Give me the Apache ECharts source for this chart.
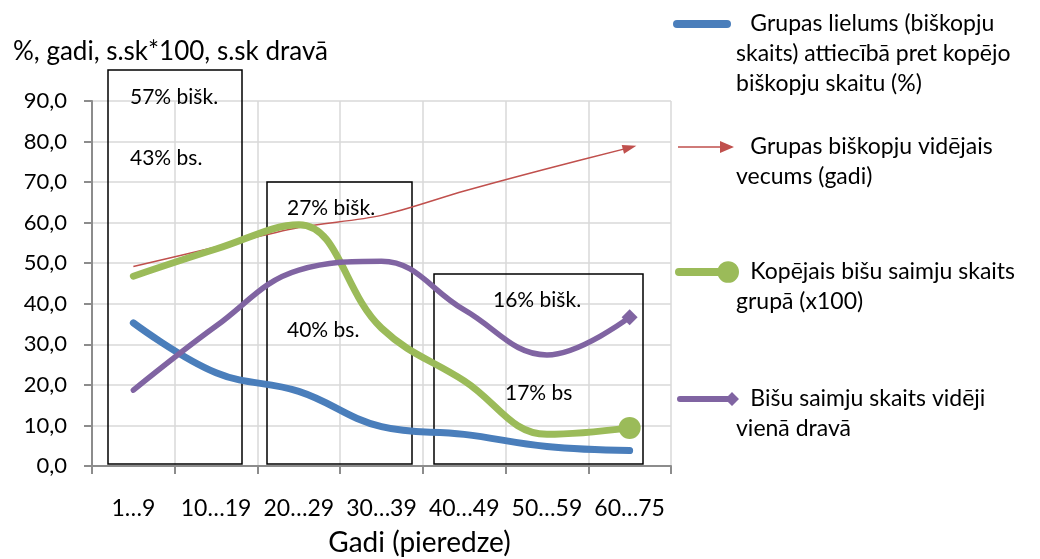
<!DOCTYPE html>
<html>
<head>
<meta charset="utf-8">
<script src="https://cdn.jsdelivr.net/npm/echarts@6/dist/echarts.min.js"></script>
<style>
  html, body { margin: 0; padding: 0; background: #fff; }
  #main { width: 1040px; height: 559px; }
</style>
</head>
<body>
<div id="main"></div>
<script>
// categorias (grupas pēc pieredzes gadiem)
var categories = ['1…9', '10…19', '20…29', '30…39', '40…49', '50…59', '60…75'];

// vērtības nolasītas no attēla
var grupasLielums = [35.3, 23.0, 18.4, 9.7, 7.8, 4.8, 3.8];
var videjaisVecums = [49.2, 54.0, 58.8, 61.8, 67.8, 73.3, 78.5];
var kopejaisSaimju = [46.8, 53.5, 59.5, 34.0, 21.0, 7.8, 9.4];
var saimjuDrava = [18.7, 34.5, 48.3, 50.5, 38.5, 27.4, 36.7];

var seriesNames = [
  'Grupas lielums (biškopju skaits) attiecībā pret kopējo biškopju skaitu (%)',
  'Grupas biškopju vidējais vecums (gadi)',
  'Kopējais bišu saimju skaits grupā (x100)',
  'Bišu saimju skaits vidēji vienā dravā'
];
var legendLines = [
  ['Grupas lielums (biškopju', 'skaits) attiecībā pret kopējo', 'biškopju skaitu (%)'],
  ['Grupas biškopju vidējais', 'vecums (gadi)'],
  ['Kopējais bišu saimju skaits', 'grupā (x100)'],
  ['Bišu saimju skaits vidēji', 'vienā dravā']
];

// uzraksti kastēs
var boxTexts = ['57% bišk.', '43% bs.', '27% bišk.', '40% bs.', '16% bišk.', '17% bs'];

var yMin = 0, yMax = 90, yStep = 10;
var titleText = '%, gadi, s.sk*100, s.sk dravā';
var xName = 'Gadi (pieredze)';

var FONT = 'Lato';
var colors = ['#4a7ebb', '#c0504d', '#9bbb59', '#8064a2'];

// leģendas ikonas (ceļi)
var icons = [
  { path: 'path://M4,0 H54 A4,4 0 0 1 54,8 H4 A4,4 0 0 1 4,0 Z', w: 58, h: 8 },
  { path: 'path://M0,5.25 H44 V6.75 H0 Z M42,0 L56,6 L42,12 Z', w: 56, h: 12 },
  { path: 'path://M3,7 H44 V15 H3 A4,4 0 0 1 3,7 Z M42,11 A11,11 0 1 1 64,11 A11,11 0 1 1 42,11 Z', w: 64, h: 22 },
  { path: 'path://M3,4 H52 V10 H3 A3,3 0 0 1 3,4 Z M55,0 L62,7 L55,14 L48,7 Z', w: 62, h: 14 }
];
var legendIconY = [24, 147, 272, 399];
var legendLeft = [673, 678, 675, 677];
var LH = 30;

function buildLegend(i) {
  var lines = legendLines[i];
  var n = lines.length;
  // tukšas rindas priekšā, lai ikona būtu pie pirmās rindas
  var txt = '';
  for (var k = 0; k < n - 1; k++) txt += '\n';
  txt += '\u2002\u2009' + lines.join('\n');
  var total = 2 * n - 1;
  return {
    show: true,
    data: [{ name: seriesNames[i], icon: icons[i].path }],
    left: legendLeft[i],
    top: legendIconY[i] - total * LH / 2,
    padding: 0,
    itemWidth: icons[i].w,
    itemHeight: icons[i].h,
    itemGap: 0,
    selectedMode: false,
    formatter: function () { return txt; },
    textStyle: { fontFamily: FONT, fontSize: 23, lineHeight: LH, color: '#000', padding: [0, 0, 0, 736 - legendLeft[i] - icons[i].w - 5] }
  };
}

function lastMark(arr, symbol, size, rotate) {
  var d = arr.slice(0, arr.length - 1);
  d.push({ value: arr[arr.length - 1], symbol: symbol, symbolSize: size, symbolRotate: rotate || 0 });
  return d;
}

var myChart = echarts.init(document.getElementById('main'));

var boxes = [
  { x: 108, y: 70, w: 134, h: 394 },
  { x: 267, y: 182, w: 145, h: 282 },
  { x: 434, y: 274, w: 209, h: 190 }
];
var textPos = [[130, 97], [130, 158], [287, 208], [287, 330], [493, 300], [505, 393]];

var graphics = [];
boxes.forEach(function (b) {
  graphics.push({
    type: 'rect', z: 1,
    shape: { x: b.x, y: b.y, width: b.w, height: b.h },
    style: { fill: 'none', stroke: '#000', lineWidth: 1.5 }
  });
});
boxTexts.forEach(function (t, i) {
  graphics.push({
    type: 'text', z: 1, x: textPos[i][0], y: textPos[i][1],
    style: { text: t, fill: '#000', font: '21px ' + FONT, verticalAlign: 'middle' }
  });
});

myChart.setOption({
  animation: false,
  title: {
    text: titleText,
    left: 8, top: 34,
    textStyle: { fontFamily: FONT, fontSize: 26, fontWeight: 'normal', color: '#000' }
  },
  legend: [buildLegend(0), buildLegend(1), buildLegend(2), buildLegend(3)],
  grid: { left: 92, right: 369, top: 101, bottom: 93, containLabel: false, outerBoundsMode: 'none' },
  xAxis: {
    type: 'category',
    data: categories,
    boundaryGap: true,
    name: xName,
    nameLocation: 'middle',
    nameGap: 63,
    nameTextStyle: { fontFamily: FONT, fontSize: 28, color: '#000', padding: [0, 0, 0, 76] },
    axisLine: { lineStyle: { color: '#8c8c8c', width: 2 } },
    axisTick: { show: true, length: 8, lineStyle: { color: '#8c8c8c', width: 2 } },
    axisLabel: { margin: 31, fontFamily: FONT, fontSize: 23, color: '#000', interval: 0 },
    splitLine: { show: true, lineStyle: { color: '#d9d9d9', width: 1.5 } }
  },
  yAxis: {
    type: 'value',
    min: yMin, max: yMax, interval: yStep,
    axisLine: { show: true, lineStyle: { color: '#8c8c8c', width: 2 } },
    axisTick: { show: true, length: 8, lineStyle: { color: '#8c8c8c', width: 2 } },
    axisLabel: {
      margin: 25, fontFamily: FONT, fontSize: 22, color: '#000',
      formatter: function (v) { return v.toFixed(1).replace('.', ','); }
    },
    splitLine: { show: true, lineStyle: { color: '#d9d9d9', width: 1.5 } }
  },
  series: [
    {
      name: seriesNames[0], type: 'line', smooth: 0.4, symbol: 'none',
      data: grupasLielums,
      itemStyle: { color: colors[0] },
      lineStyle: { color: colors[0], width: 7, cap: 'round' }
    },
    {
      name: seriesNames[1], type: 'line', smooth: 0.3, symbol: 'none',
      data: lastMark(videjaisVecums, 'triangle', [9, 14], -75),
      itemStyle: { color: colors[1] },
      lineStyle: { color: colors[1], width: 1.5 }
    },
    {
      name: seriesNames[2], type: 'line', smooth: 0.4, symbol: 'none',
      data: lastMark(kopejaisSaimju, 'circle', 22),
      itemStyle: { color: colors[2] },
      lineStyle: { color: colors[2], width: 7, cap: 'round' }
    },
    {
      name: seriesNames[3], type: 'line', smooth: 0.4, symbol: 'none',
      data: lastMark(saimjuDrava, 'diamond', 16),
      itemStyle: { color: colors[3] },
      lineStyle: { color: colors[3], width: 5.5, cap: 'round' }
    }
  ],
  graphic: graphics
});
</script>
</body>
</html>
